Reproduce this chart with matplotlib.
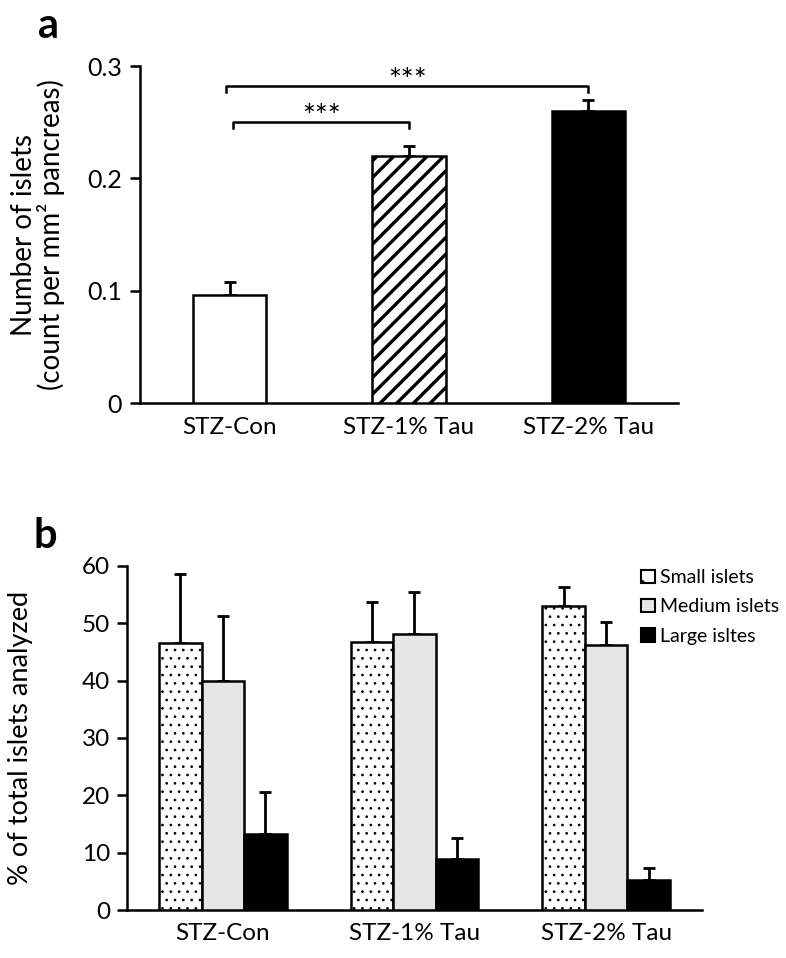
import numpy as np
import matplotlib
matplotlib.use("Agg")
import matplotlib.pyplot as plt
from matplotlib.patches import Patch

plt.rcParams['font.family'] = ['Lato', 'DejaVu Sans']
plt.rcParams['hatch.linewidth'] = 2.4

# panel a
groups = ['STZ-Con', 'STZ-1% Tau', 'STZ-2% Tau']
islet_count = [0.096, 0.220, 0.260]
islet_count_err = [0.012, 0.009, 0.010]

# panel b
size_labels = ['Small islets', 'Medium islets', 'Large isltes']
small_pct = [46.6, 46.8, 53.1]
medium_pct = [39.9, 48.2, 46.2]
large_pct = [13.3, 8.9, 5.2]
small_err = [12.0, 6.9, 3.2]
medium_err = [11.3, 7.3, 4.1]
large_err = [7.3, 3.6, 2.1]


def thin_dots(patch):
    # dotted fill should use fine dots, not the thick stripe width
    if hasattr(patch, 'set_hatch_linewidth'):
        patch.set_hatch_linewidth(0.7)


fig = plt.figure(figsize=(7.86, 9.58), dpi=100)

# ---- panel a ----
ax1 = fig.add_axes([0.178, 0.5793, 0.6846, 0.3518])
x = np.arange(len(groups))
fills = ['white', 'white', 'black']
hatches = [None, '//', None]
for i in range(len(groups)):
    ax1.bar(x[i], islet_count[i], width=0.41, color=fills[i], edgecolor='black',
            linewidth=1.8, hatch=hatches[i], zorder=3)
    ax1.errorbar(x[i], islet_count[i], yerr=[[0], [islet_count_err[i]]], fmt='none',
                 ecolor='black', elinewidth=2, capsize=4, capthick=2, zorder=2)


# significance brackets
def bracket(ax, x0, x1, y, drop, label):
    ax.plot([x0, x0, x1, x1], [y - drop, y, y, y - drop], color='black', lw=1.8,
            clip_on=False)
    ax.text((x0 + x1) / 2, y - 0.008, label, ha='center', va='bottom', fontsize=22)


bracket(ax1, 0.02, 1.0, 0.250, 0.005, '***')
bracket(ax1, -0.02, 2.0, 0.282, 0.005, '***')

ax1.set_xlim(-0.5, 2.5)
ax1.set_ylim(0, 0.3)
ax1.set_yticks([0, 0.1, 0.2, 0.3])
ax1.set_yticklabels(['0', '0.1', '0.2', '0.3'])
ax1.set_xticks(x)
ax1.set_xticklabels(groups)
ax1.tick_params(axis='y', direction='out', length=7, width=1.8, labelsize=18, pad=6)
ax1.tick_params(axis='x', length=0, labelsize=17.5, pad=10)
for s in ['top', 'right']:
    ax1.spines[s].set_visible(False)
for s in ['left', 'bottom']:
    ax1.spines[s].set_linewidth(1.8)
ax1.set_ylabel('Number of islets\n(count per mm² pancreas)', fontsize=20,
               linespacing=1.0)
ax1.yaxis.set_label_coords(-0.139, 0.5)
fig.text(0.048, 0.960, 'a', fontsize=30, fontweight='bold', va='baseline', ha='left')

# ---- panel b ----
ax2 = fig.add_axes([0.1616, 0.0501, 0.7315, 0.3591])
w = 0.222
series = [(small_pct, small_err, 'white', '..'),
          (medium_pct, medium_err, '#e6e6e6', None),
          (large_pct, large_err, 'black', None)]
for k, (vals, errs, col, hat) in enumerate(series):
    pos = x + (k - 1) * w
    bars = ax2.bar(pos, vals, width=w, color=col, edgecolor='black', linewidth=1.8,
                   hatch=hat, zorder=3, label=size_labels[k])
    if hat:
        for b in bars:
            thin_dots(b)
    ax2.errorbar(pos, vals, yerr=[np.zeros(len(vals)), errs], fmt='none',
                 ecolor='black', elinewidth=2, capsize=4, capthick=2, zorder=2)

ax2.set_xlim(-0.5, 2.5)
ax2.set_ylim(0, 60)
ax2.set_yticks(np.arange(0, 61, 10))
ax2.set_xticks(x)
ax2.set_xticklabels(groups)
ax2.tick_params(axis='y', direction='out', length=7, width=1.8, labelsize=17.5, pad=5)
ax2.tick_params(axis='x', length=0, labelsize=17.5, pad=9)
for s in ['top', 'right']:
    ax2.spines[s].set_visible(False)
for s in ['left', 'bottom']:
    ax2.spines[s].set_linewidth(1.8)
ax2.set_ylabel('% of total islets analyzed', fontsize=19.5)
ax2.yaxis.set_label_coords(-0.163, 0.5)

handles = [Patch(facecolor='white', edgecolor='black', hatch='.', linewidth=1.5),
           Patch(facecolor='#e6e6e6', edgecolor='black', linewidth=1.5),
           Patch(facecolor='black', edgecolor='black', linewidth=1.5)]
thin_dots(handles[0])
ax2.legend(handles, size_labels, loc='upper left', bbox_to_anchor=(0.894, 0.99),
           frameon=False, fontsize=14, handlelength=0.7, handleheight=0.7,
           handletextpad=0.3, labelspacing=0.62, borderaxespad=0, borderpad=0)
fig.text(0.042, 0.428, 'b', fontsize=30, fontweight='bold', va='baseline', ha='left')

fig.savefig('out.png', dpi=100)
